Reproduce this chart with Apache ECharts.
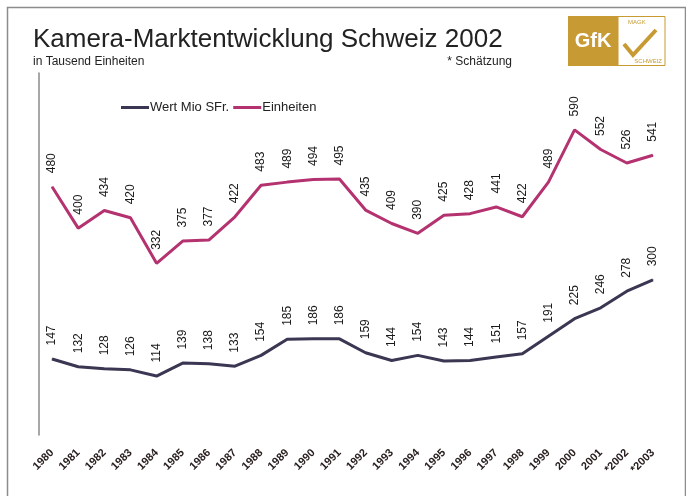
<!DOCTYPE html>
<html><head><meta charset="utf-8">
<script src="https://cdn.jsdelivr.net/npm/echarts@6/dist/echarts.min.js"></script>
<style>html,body{margin:0;padding:0;background:#fff}#c{width:686px;height:496px}</style>
</head><body><div id="c"></div>
<script>
var categories = ['1980','1981','1982','1983','1984','1985','1986','1987','1988','1989','1990','1991','1992','1993','1994','1995','1996','1997','1998','1999','2000','2001','*2002','*2003'];
var wertMioSFr = [147,132,128,126,114,139,138,133,154,185,186,186,159,144,154,143,144,151,157,191,225,246,278,300];
var einheiten = [480,400,434,420,332,375,377,422,483,489,494,495,435,409,390,425,428,441,422,489,590,552,526,541];
var seriesNames = ['Wert Mio SFr.', 'Einheiten'];
var seriesColors = ['#3b3652', '#b4326f'];
var titleText = 'Kamera-Marktentwicklung Schweiz 2002';
var subtitleText = 'in Tausend Einheiten';
var noteText = '* Schätzung';

var chart = echarts.init(document.getElementById('c'));
var font = '"Liberation Sans", Arial, sans-serif';
function mkSeries(name, data, color) {
  return {
    name: name, type: 'line', data: data,
    symbol: 'circle', symbolSize: 1, showSymbol: true,
    itemStyle: { color: color },
    lineStyle: { color: color, width: 3 },
    label: {
      show: true, position: 'top', distance: 13, rotate: 90,
      align: 'left', verticalAlign: 'middle',
      fontFamily: font, fontSize: 12, color: '#1a1a1a'
    },
    animation: false
  };
}
chart.setOption({
  backgroundColor: '#fff',
  animation: false,
  grid: { left: 39, right: 20, top: 73, bottom: 61 },
  legend: {
    left: 116, top: 96, itemGap: 4, itemWidth: 28, itemHeight: 3, icon: 'rect',
    textStyle: { fontFamily: font, fontSize: 13, color: '#222', padding: [0,0,0,-4] },
    data: seriesNames
  },
  xAxis: {
    type: 'category', data: categories, boundaryGap: true,
    axisLine: { show: false }, axisTick: { show: false },
    axisLabel: { rotate: 45, margin: 16, fontFamily: font, fontSize: 11, fontWeight: 'bold', color: '#2a2020', interval: 0 }
  },
  yAxis: {
    type: 'value', min: 0, max: 700, interval: 100,
    axisLine: { show: true, lineStyle: { color: '#8a8a8a', width: 1.5 } },
    axisTick: { show: false }, axisLabel: { show: false }, splitLine: { show: false }
  },
  series: [mkSeries(seriesNames[0], wertMioSFr, seriesColors[0]), mkSeries(seriesNames[1], einheiten, seriesColors[1])],
  graphic: [
    { type: 'rect', left: 5, top: 5, shape: { width: 678, height: 500 }, style: { fill: 'none', stroke: '#8c8c8c', lineWidth: 1.5 }, silent: true },
    { type: 'text', x: 33, y: 27, style: { text: titleText, font: '26px ' + font, fill: '#222' } },
    { type: 'text', x: 33, y: 56, style: { text: subtitleText, font: '12px ' + font, fill: '#222' } },
    { type: 'text', x: 512, y: 56, style: { text: noteText, font: '12px ' + font, fill: '#222', textAlign: 'right' } },
    { type: 'rect', shape: { x: 568, y: 16, width: 50, height: 50 }, style: { fill: '#c89a33' } },
    { type: 'rect', shape: { x: 618, y: 16.5, width: 47, height: 49 }, style: { fill: '#fff', stroke: '#c89a33', lineWidth: 1 } },
    { type: 'text', x: 593, y: 41, style: { text: 'GfK', font: 'bold 20px ' + font, fill: '#fff', textAlign: 'center', textVerticalAlign: 'middle' } },
    { type: 'text', x: 628, y: 19, style: { text: 'MAGK', font: '6px ' + font, fill: '#c89a33' } },
    { type: 'text', x: 662, y: 58, style: { text: 'SCHWEIZ', font: '6px ' + font, fill: '#c89a33', textAlign: 'right' } },
    { type: 'polyline', shape: { points: [[624, 44], [633, 55], [656, 30]] }, style: { stroke: '#c89a33', lineWidth: 4, fill: 'none' } }
  ]
});
</script></body></html>
